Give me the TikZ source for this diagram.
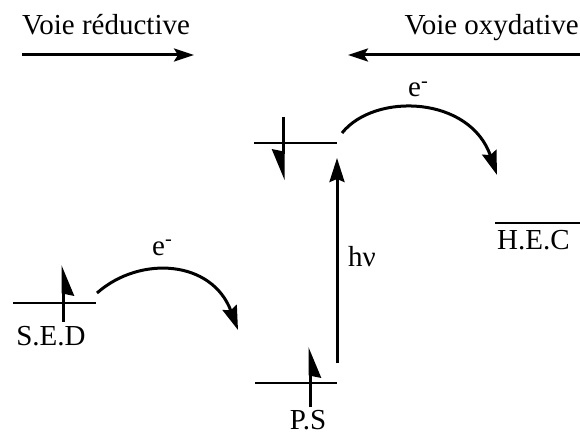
\documentclass[tikz,border=0pt]{standalone}
\usepackage{fontspec}
\setmainfont{Liberation Serif}
\usetikzlibrary{arrows.meta, positioning}

\begin{document}
\begin{tikzpicture}[x=1pt, y=-1pt,
  font=\fontsize{29}{33}\selectfont,
  % energy level = plain horizontal bar
  level/.style={line width=2.2pt},
  % electron spin = half arrow head
  spin/.style={line width=3pt, -{Stealth[harpoon, swap, length=27pt, width=22pt, inset=2pt]}},
  % electron transfer and direction arrows
  flow/.style={line width=3pt, -{Stealth[length=24pt, width=15pt, inset=3pt]}},
  way/.style={line width=3pt, -{Stealth[length=20pt, width=13pt, inset=4pt]}},
  lbl/.style={inner sep=0pt}
]
\useasboundingbox (0,0) rectangle (580,435);

% ---- Direction labels (Top) ----
\node[lbl, anchor=base west] (red) at (22,35) {Voie réductive};
\node[lbl, anchor=base east] (ox) at (579,35) {Voie oxydative};
\coordinate (redA) at (22,55);
\coordinate (redB) at (194,55);
\coordinate (oxA) at (580,55);
\coordinate (oxB) at (348,55);
\draw[way] (redA) -- (redB);
\draw[way] (oxA) -- (oxB);

% ---- Energy levels ----
\coordinate (sedL) at (13,303);
\coordinate (sedR) at (96,303);
\coordinate (psL) at (255,383);
\coordinate (psR) at (337,383);
\coordinate (psxL) at (254,143);
\coordinate (psxR) at (337,143);
\coordinate (hecL) at (495,223);
\coordinate (hecR) at (580,223);
\draw[level] (sedL) -- (sedR);
\draw[level] (psL) -- (psR);
\draw[level] (psxL) -- (psxR);
\draw[level] (hecL) -- (hecR);

\node[lbl, anchor=north] (sed) at (51,326) {S.E.D};
\node[lbl, anchor=north] (ps) at (308,410) {P.S};
\node[lbl, anchor=north west] (hec) at (497,230) {H.E.C};

% ---- Spins ----
\draw[spin] (63,322) -- (63,265);
\draw[spin] (310,407) -- (310,347);
\draw[spin] (283,117) -- (283,180);

% ---- Transfers ----
\coordinate (t1a) at (97,293);
\coordinate (t1b) at (238,330);
\coordinate (t2a) at (342,133);
\coordinate (t2b) at (497,175);
\coordinate (hvA) at (337,363);
\coordinate (hvB) at (337,158);
\draw[flow] (t1a) .. controls (140,255) and (212,260) .. (t1b);
\draw[flow] (t2a) .. controls (375,92) and (470,96) .. (t2b);
\draw[flow] (hvA) -- (hvB);

\node[lbl, anchor=base west] (e1) at (152,255) {e\textsuperscript{-}};
\node[lbl, anchor=base west] (e2) at (408,97) {e\textsuperscript{-}};
\node[lbl, anchor=base west] (hv) at (348,267) {hν};

\end{tikzpicture}
\end{document}
